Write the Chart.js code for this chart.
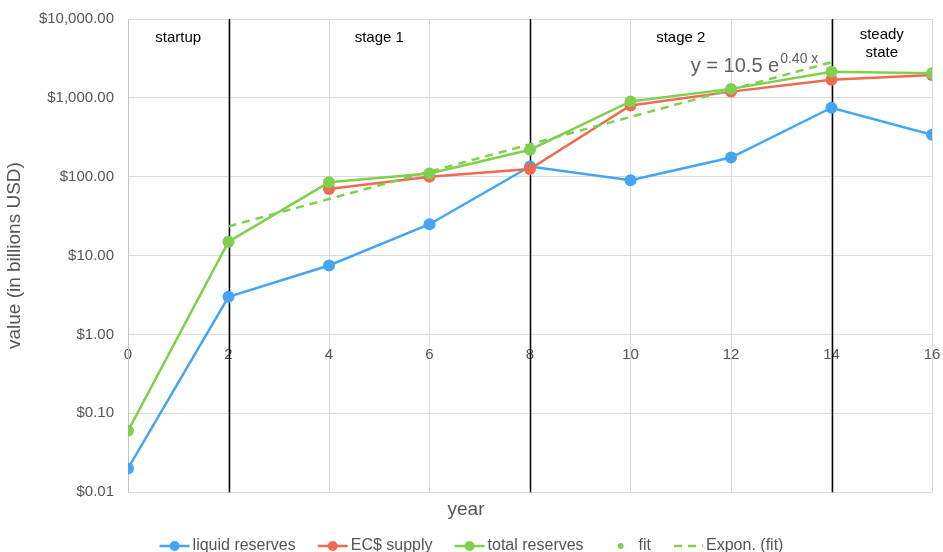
<!DOCTYPE html>
<html>
<head>
<meta charset="utf-8">
<script src="https://cdn.jsdelivr.net/npm/chart.js@4/dist/chart.umd.min.js"></script>
<style>
  html, body { margin: 0; padding: 0; background: #fff; }
  #wrap { width: 943px; height: 552px; }
</style>
</head>
<body>
<div id="wrap"><canvas id="chart" width="943" height="552"></canvas></div>
<script>
// values (billions USD, log axis)
const years = [0, 2, 4, 6, 8, 10, 12, 14, 16];
const liquid = [0.02, 3, 7.5, 25, 135, 90, 175, 750, 340];
const ecSupply = [null, null, 70, 100, 125, 800, 1200, 1700, 1950];
const total = [0.06, 15, 85, 110, 220, 900, 1300, 2150, 2050];
const fitX = [2, 4, 6, 8, 10, 12, 14];
const fitY = [15, 85, 110, 220, 900, 1300, 2150];
const trendX = [2, 14];
const trendY = [23.5, 2830];
const yTicks = [0.01, 0.1, 1, 10, 100, 1000, 10000];
const stageLines = [2, 8, 14];
const stageCenters = [1, 5, 11, 15];
const stageNames = [['startup'], ['stage 1'], ['stage 2'], ['steady', 'state']];

const BLUE = '#45a5f5', RED = '#ee6b50', GREEN = '#7fd04e';
const FONT = '"Liberation Sans", Arial, sans-serif';
const GREY = '#555';

const pts = (xs, ys) => xs.map((x, i) => ({ x, y: ys[i] })).filter(p => p.y != null);

const overlay = {
  id: 'overlay',
  beforeDatasetsDraw(chart) {
    const { ctx, chartArea: a, scales: { x } } = chart;
    ctx.save();
    ctx.strokeStyle = '#000';
    ctx.lineWidth = 1.5;
    stageLines.forEach(v => {
      const px = Math.round(x.getPixelForValue(v)) + 0.5;
      ctx.beginPath(); ctx.moveTo(px, a.top); ctx.lineTo(px, a.bottom); ctx.stroke();
    });
    ctx.restore();
  },
  afterDraw(chart) {
    const { ctx, chartArea: a, scales: { x } } = chart;
    ctx.save();
    // stage names
    ctx.fillStyle = '#000';
    ctx.font = '15px ' + FONT;
    ctx.textAlign = 'center';
    ctx.textBaseline = 'middle';
    stageNames.forEach((lines, i) => {
      const cx = x.getPixelForValue(stageCenters[i]);
      const y0 = lines.length > 1 ? a.top + 16 : a.top + 19;
      lines.forEach((t, j) => ctx.fillText(t, cx, y0 + j * 18));
    });
    // trendline equation
    ctx.fillStyle = '#5f5f5f';
    ctx.textAlign = 'left';
    ctx.textBaseline = 'alphabetic';
    ctx.font = '20px ' + FONT;
    const ex = x.getPixelForValue(11.2), ey = a.top + 53;
    const main = 'y = 10.5 e';
    ctx.fillText(main, ex, ey);
    const w = ctx.measureText(main).width;
    ctx.font = '14px ' + FONT;
    ctx.fillText('0.40 x', ex + w + 1, ey - 9);

    // legend
    ctx.font = '16px ' + FONT;
    ctx.textBaseline = 'middle';
    const items = chart.data.datasets.map(ds => ({ ds, tw: ctx.measureText(ds.label).width }));
    const mw = 30, gap = 3, sep = 22;
    const totalW = items.reduce((s, it) => s + mw + gap + it.tw, 0) + sep * (items.length - 1);
    let lx = chart.width / 2 - totalW / 2;
    const ly = 546;
    items.forEach(({ ds, tw }) => {
      const c = ds.borderColor;
      ctx.strokeStyle = c; ctx.fillStyle = c; ctx.lineWidth = 2.5;
      if (ds.marker === 'line') {
        ctx.beginPath(); ctx.moveTo(lx, ly); ctx.lineTo(lx + mw, ly); ctx.stroke();
        ctx.beginPath(); ctx.arc(lx + mw / 2, ly, 5, 0, Math.PI * 2); ctx.fill();
      } else if (ds.marker === 'dot') {
        ctx.beginPath(); ctx.arc(lx + mw / 2, ly, 3, 0, Math.PI * 2); ctx.fill();
      } else {
        ctx.setLineDash([8, 6]);
        ctx.beginPath(); ctx.moveTo(lx + 1, ly); ctx.lineTo(lx + mw, ly); ctx.stroke();
        ctx.setLineDash([]);
      }
      ctx.fillStyle = GREY;
      ctx.fillText(ds.label, lx + mw + gap, ly);
      lx += mw + gap + tw + sep;
    });
    ctx.restore();
  }
};

new Chart(document.getElementById('chart'), {
  type: 'line',
  data: {
    datasets: [
      { label: 'liquid reserves', marker: 'line', data: pts(years, liquid), borderColor: BLUE, backgroundColor: BLUE, order: 5 },
      { label: 'EC$ supply', marker: 'line', data: pts(years, ecSupply), borderColor: RED, backgroundColor: RED, order: 4 },
      { label: 'total reserves', marker: 'line', data: pts(years, total), borderColor: GREEN, backgroundColor: GREEN, order: 2 },
      { label: 'fit', marker: 'dot', data: pts(fitX, fitY), borderColor: GREEN, backgroundColor: GREEN, showLine: false, pointRadius: 3, order: 3 },
      { label: 'Expon. (fit)', marker: 'dash', data: pts(trendX, trendY), borderColor: GREEN, borderDash: [8, 6], pointRadius: 0, order: 1 }
    ]
  },
  options: {
    responsive: false,
    animation: false,
    devicePixelRatio: 1,
    layout: { padding: { top: 19, right: 11, left: 0, bottom: 31 } },
    elements: {
      line: { borderWidth: 2.5, tension: 0 },
      point: { radius: 6, hoverRadius: 6, borderWidth: 0 }
    },
    scales: {
      x: {
        type: 'linear',
        min: 0, max: 16,
        position: { y: 1 },
        afterFit: s => { s.paddingLeft = 0; s.paddingRight = 0; s.paddingTop = 0; s.paddingBottom = 0; },
        ticks: { stepSize: 2, color: GREY, font: { family: FONT, size: 15 }, padding: 11 },
        grid: { color: '#dcdcdc', drawTicks: false },
        border: { display: false }
      },
      y: {
        type: 'logarithmic',
        min: 0.01, max: 10000,
        afterBuildTicks: s => { s.ticks = yTicks.map(v => ({ value: v })); },
        afterFit: s => { s.width = 128; s.paddingTop = 0; s.paddingBottom = 0; },
        ticks: {
          color: GREY,
          font: { family: FONT, size: 15 },
          padding: 14,
          callback: v => '$' + Number(v).toLocaleString('en-US', { minimumFractionDigits: 2, maximumFractionDigits: 2 })
        },
        grid: { color: '#dcdcdc', drawTicks: false },
        border: { color: '#c4c4c4' },
        title: { display: true, text: 'value (in billions USD)', color: GREY, font: { family: FONT, size: 19 }, padding: 3 }
      }
    },
    plugins: {
      legend: { display: false },
      tooltip: { enabled: false },
      title: {
        display: true, position: 'bottom', text: 'year', color: GREY,
        font: { family: FONT, size: 19, weight: 'normal' },
        padding: { top: 6, bottom: 0 }
      }
    }
  },
  plugins: [overlay]
});
</script>
</body>
</html>
